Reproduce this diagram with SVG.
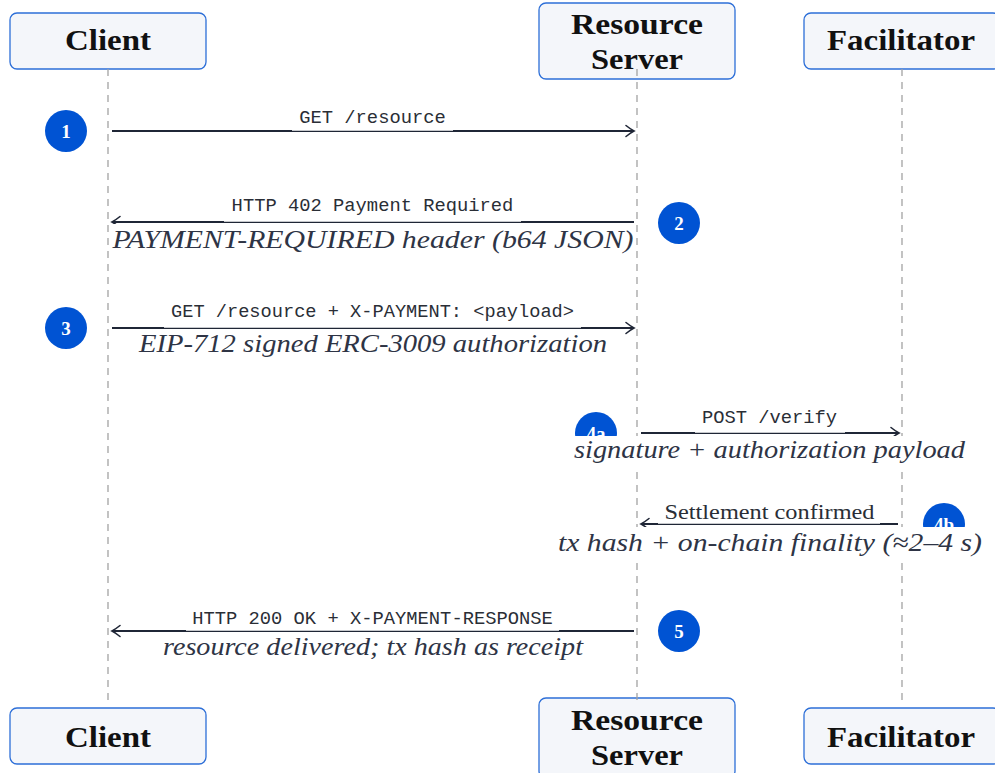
<svg xmlns="http://www.w3.org/2000/svg" width="995" height="773" viewBox="0 0 995 773">
  <defs>
    <style>
      .box { fill: #f4f6fa; stroke: #2d6fd8; stroke-width: 1.3; }
      .title { font-family: "Liberation Serif", "DejaVu Serif", serif; font-weight: bold; font-size: 29px; fill: #111111; text-anchor: middle; }
      .life { stroke: #a3a3a3; stroke-width: 1.3; stroke-dasharray: 7 6; fill: none; }
      .badge { fill: #0053d3; }
      .num { font-family: "Liberation Serif", "DejaVu Serif", serif; font-weight: bold; font-size: 19px; fill: #ffffff; text-anchor: middle; }
      .msg { stroke: #1f2636; stroke-width: 1.8; fill: none; marker-end: url(#head); }
      .mono { font-family: "Liberation Mono", "DejaVu Sans Mono", monospace; font-size: 18.8px; fill: #2a2e36; text-anchor: middle; }
      .roman { font-family: "Liberation Serif", "DejaVu Serif", serif; font-size: 22px; fill: #2a2e36; text-anchor: middle; }
      .ital { font-family: "Liberation Serif", "DejaVu Serif", serif; font-style: italic; font-size: 26px; fill: #2e3445; text-anchor: middle; }
      .veil { fill: #ffffff; fill-opacity: 0.75; }
      .pad { fill: #ffffff; }
    </style>
    <marker id="head" viewBox="-10 -7 12 14" markerWidth="12" markerHeight="14" refX="0" refY="0" orient="auto" markerUnits="userSpaceOnUse">
      <path d="M -8 -5.5 Q -3 -1.5 0 0 Q -3 1.5 -8 5.5" fill="none" stroke="#1f2636" stroke-width="1.6" stroke-linecap="round"/>
    </marker>
    <!-- badges 4a/4b sit partly under the label pads below their arrows -->
    <clipPath id="clip-4a"><rect x="570" y="405" width="60" height="31"/></clipPath>
    <clipPath id="clip-4b"><rect x="918" y="496" width="60" height="31"/></clipPath>
  </defs>

  <rect width="995" height="773" fill="#ffffff"/>

  <!-- participant boxes -->
  <g id="client-top">
    <rect class="box" x="10" y="13" width="196" height="56" rx="7"/>
  </g>
  <g id="server-top">
    <rect class="box" x="539" y="3" width="196" height="76" rx="7"/>
  </g>
  <g id="facilitator-top">
    <rect class="box" x="804" y="13" width="196" height="56" rx="7"/>
  </g>
  <g id="client-bottom">
    <rect class="box" x="10" y="708" width="196" height="56" rx="7"/>
  </g>
  <g id="server-bottom">
    <rect class="box" x="539" y="698" width="196" height="80" rx="7"/>
  </g>
  <g id="facilitator-bottom">
    <rect class="box" x="804" y="708" width="196" height="56" rx="7"/>
  </g>

  <!-- lifelines -->
  <g id="lifelines">
    <line class="life" x1="108" y1="69" x2="108" y2="704"/>
    <line class="life" x1="637" y1="69" x2="637" y2="704"/>
    <line class="life" x1="902" y1="69" x2="902" y2="704"/>
  </g>

  <!-- participant titles -->
  <g id="titles">
    <text class="title" x="108" y="50" textLength="86" lengthAdjust="spacingAndGlyphs">Client</text>
    <text class="title" x="637" y="34" textLength="132" lengthAdjust="spacingAndGlyphs">Resource</text>
    <text class="title" x="637" y="69" textLength="92" lengthAdjust="spacingAndGlyphs">Server</text>
    <text class="title" x="901" y="50" textLength="148" lengthAdjust="spacingAndGlyphs">Facilitator</text>
    <text class="title" x="108" y="747" textLength="86" lengthAdjust="spacingAndGlyphs">Client</text>
    <text class="title" x="637" y="730" textLength="132" lengthAdjust="spacingAndGlyphs">Resource</text>
    <text class="title" x="637" y="765" textLength="92" lengthAdjust="spacingAndGlyphs">Server</text>
    <text class="title" x="901" y="747" textLength="148" lengthAdjust="spacingAndGlyphs">Facilitator</text>
  </g>

  <!-- step badges -->
  <g id="step-1"><circle class="badge" cx="66" cy="131" r="21"/><text class="num" x="66" y="138">1</text></g>
  <g id="step-2"><circle class="badge" cx="679" cy="223" r="21"/><text class="num" x="679" y="230">2</text></g>
  <g id="step-3"><circle class="badge" cx="66" cy="328" r="21"/><text class="num" x="66" y="335">3</text></g>
  <g id="step-4a" clip-path="url(#clip-4a)"><circle class="badge" cx="596" cy="433" r="21"/><text class="num" x="596" y="440">4a</text></g>
  <g id="step-4b" clip-path="url(#clip-4b)"><circle class="badge" cx="944" cy="524" r="21"/><text class="num" x="944" y="531">4b</text></g>
  <g id="step-5"><circle class="badge" cx="679" cy="631" r="21"/><text class="num" x="679" y="638">5</text></g>

  <!-- messages -->
  <g id="connectors">
    <!-- 1: request -->
    <line class="msg" x1="112" y1="131" x2="634" y2="131"/>
    <rect class="veil" x="292" y="106" width="161" height="25"/>
    <text class="mono" x="372.5" y="123">GET /resource</text>

    <!-- 2: payment required -->
    <line class="msg" x1="634" y1="222" x2="112" y2="222"/>
    <rect class="veil" x="224" y="194" width="297" height="28"/>
    <text class="mono" x="372.5" y="211">HTTP 402 Payment Required</text>
    <rect class="pad" x="110" y="224" width="526" height="33"/>
    <text class="ital" x="373" y="248" textLength="521" lengthAdjust="spacingAndGlyphs">PAYMENT-REQUIRED header (b64 JSON)</text>

    <!-- 3: paid request -->
    <line class="msg" x1="112" y1="328" x2="634" y2="328"/>
    <rect class="veil" x="164" y="300" width="417" height="28"/>
    <text class="mono" x="372.5" y="317" textLength="403" lengthAdjust="spacingAndGlyphs">GET /resource + X-PAYMENT: &lt;payload&gt;</text>
    <rect class="pad" x="134" y="330" width="478" height="32"/>
    <text class="ital" x="373" y="352" textLength="468" lengthAdjust="spacingAndGlyphs">EIP-712 signed ERC-3009 authorization</text>

    <!-- 4a: verify -->
    <line class="msg" x1="641" y1="433" x2="899" y2="433"/>
    <rect class="veil" x="695" y="406" width="150" height="27"/>
    <text class="mono" x="769.5" y="423">POST /verify</text>
    <rect class="pad" x="570" y="436" width="399" height="32"/>
    <text class="ital" x="769.5" y="458" textLength="391" lengthAdjust="spacingAndGlyphs">signature + authorization payload</text>

    <!-- 4b: settlement -->
    <line class="msg" x1="898" y1="524" x2="641" y2="524"/>
    <rect class="veil" x="658" y="500" width="222" height="24"/>
    <text class="roman" x="769.5" y="519" textLength="210" lengthAdjust="spacingAndGlyphs">Settlement confirmed</text>
    <rect class="pad" x="554" y="527" width="432" height="34"/>
    <text class="ital" x="770" y="551" textLength="424" lengthAdjust="spacingAndGlyphs">tx hash + on-chain finality (≈2–4 s)</text>

    <!-- 5: response -->
    <line class="msg" x1="634" y1="631" x2="112" y2="631"/>
    <rect class="veil" x="186" y="607" width="373" height="24"/>
    <text class="mono" x="372.5" y="624">HTTP 200 OK + X-PAYMENT-RESPONSE</text>
    <rect class="pad" x="159" y="633" width="428" height="32"/>
    <text class="ital" x="373" y="655" textLength="420" lengthAdjust="spacingAndGlyphs">resource delivered; tx hash as receipt</text>
  </g>
</svg>
